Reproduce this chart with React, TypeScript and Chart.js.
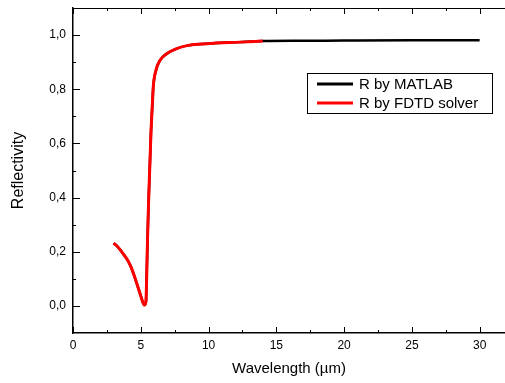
import React, { useEffect, useRef } from "react";
import { Chart, registerables } from "chart.js";

Chart.register(...registerables);

const matlabWavelength = [3.0, 3.25, 3.5, 3.75, 4.0, 4.25, 4.5, 4.75, 5.0, 5.14, 5.26, 5.38, 5.45, 5.5, 5.58, 5.75, 5.87, 5.92, 6.12, 6.42, 6.91, 7.65, 8.5, 9.86, 12.3, 14.0, 17, 20, 25, 30];
const matlabR = [0.232, 0.221, 0.206, 0.189, 0.171, 0.147, 0.114, 0.076, 0.037, 0.015, 0.003, 0.015, 0.14, 0.25, 0.39, 0.637, 0.759, 0.808, 0.87, 0.907, 0.931, 0.95, 0.962, 0.968, 0.974, 0.978, 0.979, 0.98, 0.981, 0.981];

const fdtdWavelength = [3.0, 3.25, 3.5, 3.75, 4.0, 4.25, 4.5, 4.75, 5.0, 5.14, 5.26, 5.38, 5.45, 5.5, 5.58, 5.75, 5.87, 5.92, 6.12, 6.42, 6.91, 7.65, 8.5, 9.86, 12.3, 14.0];
const fdtdR = [0.232, 0.221, 0.206, 0.189, 0.171, 0.147, 0.114, 0.076, 0.037, 0.015, 0.003, 0.015, 0.14, 0.25, 0.39, 0.637, 0.759, 0.808, 0.87, 0.907, 0.931, 0.95, 0.962, 0.968, 0.974, 0.978];

const seriesNames = ["R by MATLAB", "R by FDTD solver"];
const seriesColors = ["#000000", "#ff0000"];

const xTickValues = [0, 5, 10, 15, 20, 25, 30];
const yTickValues = [0, 0.2, 0.4, 0.6, 0.8, 1.0];
const xMinorStep = 2.5;
const yMinorStep = 0.1;
const FONT = "'Liberation Sans', Arial, sans-serif";

const frameTicks = {
  id: "frameTicks",
  afterDraw(chart: any) {
    const { ctx, chartArea } = chart;
    const xs = chart.scales.x;
    const ys = chart.scales.y;
    ctx.save();
    ctx.strokeStyle = "#000";
    ctx.lineWidth = 1;
    ctx.beginPath();
    ctx.moveTo(chartArea.left, chartArea.top + 0.5);
    ctx.lineTo(chartArea.right, chartArea.top + 0.5);
    ctx.stroke();
    for (let v = 0; v <= xs.max + 1e-9; v += xMinorStep) {
      const px = Math.round(xs.getPixelForValue(v)) + 0.5;
      const major = xTickValues.some((t) => Math.abs(t - v) < 1e-6);
      const len = major ? 6 : 3;
      ctx.beginPath();
      ctx.moveTo(px, chartArea.bottom);
      ctx.lineTo(px, chartArea.bottom - len);
      ctx.moveTo(px, chartArea.top);
      ctx.lineTo(px, chartArea.top + len);
      ctx.stroke();
    }
    for (let v = 0; v <= ys.max + 1e-9; v += yMinorStep) {
      const py = Math.round(ys.getPixelForValue(v)) + 0.5;
      const major = yTickValues.some((t) => Math.abs(t - v) < 1e-6);
      const len = major ? 7 : 3;
      ctx.beginPath();
      ctx.moveTo(chartArea.left, py);
      ctx.lineTo(chartArea.left + len, py);
      ctx.stroke();
    }
    // legend
    const bx = 307, by = 73, bw = 185, bh = 40;
    ctx.fillStyle = "#fff";
    ctx.fillRect(bx, by, bw, bh);
    ctx.strokeStyle = "#000";
    ctx.lineWidth = 1;
    ctx.strokeRect(bx + 0.5, by + 0.5, bw, bh);
    ctx.font = `15px ${FONT}`;
    ctx.textBaseline = "middle";
    ctx.textAlign = "left";
    seriesNames.forEach((name, i) => {
      const y = by + 11 + i * 19;
      ctx.strokeStyle = seriesColors[i];
      ctx.lineWidth = 3;
      ctx.beginPath();
      ctx.moveTo(317, y);
      ctx.lineTo(353, y);
      ctx.stroke();
      ctx.fillStyle = "#000";
      ctx.fillText(name, 359, y + 1);
    });
    ctx.restore();
  },
};

export default function App() {
  const ref = useRef<HTMLCanvasElement | null>(null);
  useEffect(() => {
    document.body.style.margin = "0";
    if (!ref.current) return;
    const chart = new Chart(ref.current, {
      type: "line",
      data: {
        datasets: [
          {
            label: seriesNames[1],
            data: fdtdWavelength.map((x, i) => ({ x, y: fdtdR[i] })),
            borderColor: seriesColors[1],
            borderWidth: 3,
            pointRadius: 0,
            cubicInterpolationMode: "monotone",
            fill: false,
          },
          {
            label: seriesNames[0],
            data: matlabWavelength.map((x, i) => ({ x, y: matlabR[i] })),
            borderColor: seriesColors[0],
            borderWidth: 2.5,
            pointRadius: 0,
            cubicInterpolationMode: "monotone",
            fill: false,
          },
        ],
      },
      options: {
        animation: false,
        responsive: false,
        events: [],
        layout: { padding: { top: 8, right: 0, left: 0, bottom: 0 } },
        plugins: { legend: { display: false }, tooltip: { enabled: false } },
        scales: {
          x: {
            type: "linear",
            min: 0,
            max: 31.87,
            grid: { display: false, drawTicks: false },
            border: { display: true, color: "#000", width: 1.5 },
            afterBuildTicks: (s: any) => {
              s.ticks = xTickValues.map((value) => ({ value }));
            },
            ticks: {
              padding: 5,
              color: "#000",
              font: { family: FONT, size: 12 },
              maxRotation: 0,
              autoSkip: false,
              callback: (v: any) => String(v),
            },
            title: {
              display: true,
              text: "Wavelength (µm)",
              color: "#000",
              font: { family: FONT, size: 15 },
              padding: { top: 0, bottom: 5 },
            },
            afterFit: (s: any) => {
              s.height = 50;
              s.paddingLeft = 0;
              s.paddingRight = 0;
            },
          },
          y: {
            type: "linear",
            min: -0.1,
            max: 1.1,
            grid: { display: false, drawTicks: false },
            border: { display: true, color: "#000", width: 1.5 },
            afterBuildTicks: (s: any) => {
              s.ticks = yTickValues.map((value) => ({ value }));
            },
            ticks: {
              padding: 7,
              color: "#000",
              font: { family: FONT, size: 12 },
              autoSkip: false,
              callback: (v: any) => Number(v).toFixed(1).replace(".", ","),
            },
            title: {
              display: true,
              text: "Reflectivity",
              color: "#000",
              font: { family: FONT, size: 16 },
              padding: { top: 9, bottom: 0 },
            },
            afterFit: (s: any) => {
              s.width = 73;
              s.paddingTop = 0;
              s.paddingBottom = 0;
            },
          },
        },
      },
      plugins: [frameTicks],
    });
    return () => chart.destroy();
  }, []);
  return <canvas ref={ref} width={505} height={383} style={{ display: "block" }} />;
}
